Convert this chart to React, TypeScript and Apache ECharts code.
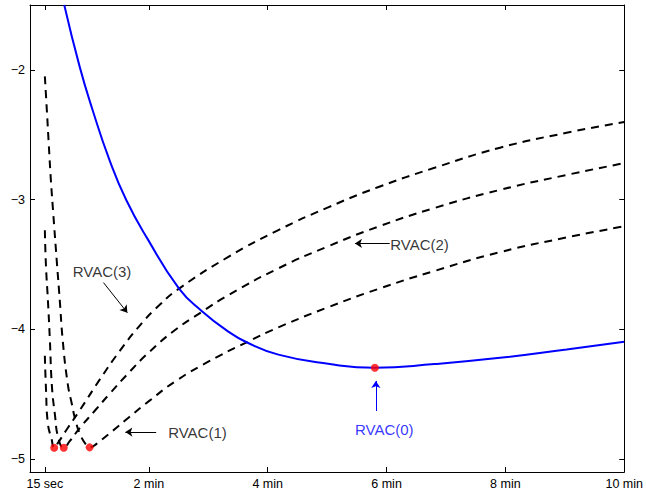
import React, { useEffect, useRef } from "react";
import * as echarts from "echarts";

const FONT = "'Liberation Sans', Arial, Helvetica, sans-serif";

// x in seconds, y values
const xTicks = [15, 120, 240, 360, 480, 600];
const xTickLabels = ["15 sec", "2 min", "4 min", "6 min", "8 min", "10 min"];
const yTicks = [-5, -4, -3, -2];

const rvac0 = [
  [34.6, -1.5], [50.2, -1.977], [63.2, -2.309], [80.3, -2.696], [97.3, -3.005],
  [118.4, -3.299], [150.5, -3.686], [173.6, -3.86], [200.7, -4.02],
  [218.7, -4.1], [250.8, -4.195], [301.0, -4.266], [348.2, -4.297], [408.4, -4.268],
  [474.6, -4.22], [541.8, -4.155], [600, -4.096],
];

const rvac1 = [
  [15, -2.05], [17, -2.31], [19, -2.58], [21, -2.84], [23.6, -3.12], [27, -3.47],
  [30.1, -3.78], [33.1, -4.09], [38.1, -4.42], [42.1, -4.57], [46.2, -4.71],
  [51.2, -4.82], [56.2, -4.885], [60.2, -4.91], [64, -4.9], [68.2, -4.877],
  [83.3, -4.784], [100.3, -4.676], [120.4, -4.552], [147.5, -4.397], [180, -4.25],
  [218.7, -4.1], [250.8, -3.985], [301, -3.83], [351.2, -3.69], [408.4, -3.55],
  [474.6, -3.405], [541.8, -3.292], [600, -3.206],
];

const rvac2 = [
  [15, -3.237], [16.1, -3.508], [18.1, -3.779], [20.1, -4.088], [22.1, -4.436],
  [25.1, -4.653], [28.6, -4.838], [34.1, -4.913], [40.1, -4.862], [50.2, -4.761],
  [65.2, -4.63], [80.3, -4.498], [100.3, -4.33], [120.4, -4.175], [145.5, -4.011],
  [173.6, -3.865], [200.7, -3.735], [250.8, -3.53], [301, -3.36], [351.2, -3.21],
  [408.4, -3.065], [474.6, -2.925], [541.8, -2.81], [600, -2.719],
];

const rvac3 = [
  [15, -4.204], [16.1, -4.452], [18.1, -4.73], [21.8, -4.846], [24.4, -4.913],
  [28.1, -4.877], [38.1, -4.761], [50.2, -4.625], [70.2, -4.39], [90.3, -4.17],
  [110.4, -3.975], [130.4, -3.815], [150.5, -3.686], [200.7, -3.44], [250.8, -3.235],
  [301, -3.06], [351.2, -2.905], [408.4, -2.755], [474.6, -2.6], [541.8, -2.485],
  [600, -2.402],
];

const minima = [[24.4, -4.913], [34.1, -4.913], [60.2, -4.91], [348.2, -4.297]];

const labelTexts = ["RVAC(0)", "RVAC(1)", "RVAC(2)", "RVAC(3)"];
const labelAnchors = [[357.7, -4.769], [169.1, -4.792], [393.3, -3.346], [72.7, -3.554]];
const labelColors = ["#0000ff", "#000000", "#000000", "#000000"];

// arrows: [tail, tip]
const arrowsBlack = [
  [[127.4, -4.792], [96.3, -4.792]],
  [[363.2, -3.338], [328.1, -3.338]],
  [[74.2, -3.64], [98.3, -3.872]],
];
const arrowsBlue = [[[349.2, -4.63], [349.2, -4.398]]];

export default function App() {
  const ref = useRef<HTMLDivElement>(null);
  useEffect(() => {
    if (!ref.current) return;
    const chart = echarts.init(ref.current, undefined, { renderer: "svg" });
    const axisLine = { show: true, onZero: false, lineStyle: { color: "#000", width: 1 } };
    const xTick = { show: true, inside: true, length: 5, customValues: xTicks, lineStyle: { color: "#000", width: 1 } };
    const yTick = { show: true, inside: true, length: 5, customValues: yTicks, lineStyle: { color: "#000", width: 1 } };
    const dashed = (data: number[][], name: string) => ({
      type: "line",
      name,
      data,
      showSymbol: false,
      smooth: 0.5,
      lineStyle: { color: "#000", width: 2, type: [8, 6] },
      z: 2,
    });
    chart.setOption({
      animation: false,
      backgroundColor: "#fff",
      grid: { left: 30, right: 18, top: 5, bottom: 21, containLabel: false },
      xAxis: [
        {
          type: "value", min: 0, max: 600, position: "bottom",
          axisLine, axisTick: xTick, splitLine: { show: false },
          axisLabel: {
            customValues: xTicks, margin: 5, color: "#000", fontSize: 12.5, fontFamily: FONT,
            formatter: (v: number) => {
              const i = xTicks.indexOf(v);
              return i >= 0 ? xTickLabels[i] : "";
            },
          },
        },
        {
          type: "value", min: 0, max: 600, position: "top",
          axisLine, axisTick: xTick, splitLine: { show: false }, axisLabel: { show: false },
        },
      ],
      yAxis: [
        {
          type: "value", min: -5.1, max: -1.5, position: "left",
          axisLine, axisTick: yTick, splitLine: { show: false },
          axisLabel: {
            customValues: yTicks, margin: 5, color: "#000", fontSize: 12.5, fontFamily: FONT,
            formatter: (v: number) => (v < 0 ? "\u2212" + Math.abs(v) : String(v)),
          },
        },
        {
          type: "value", min: -5.1, max: -1.5, position: "right",
          axisLine, axisTick: yTick, splitLine: { show: false }, axisLabel: { show: false },
        },
      ],
      series: [
        dashed(rvac1, "RVAC(1)"),
        dashed(rvac2, "RVAC(2)"),
        dashed(rvac3, "RVAC(3)"),
        {
          type: "line",
          name: "RVAC(0)",
          data: rvac0,
          showSymbol: false,
          smooth: 0.5,
          lineStyle: { color: "#0000ff", width: 2 },
          z: 3,
          markLine: {
            silent: true,
            symbol: ["none", "arrow"],
            symbolSize: 7,
            label: { show: false },
            lineStyle: { color: "#0000ff", width: 1, type: "solid" },
            data: arrowsBlue.map((a) => [{ coord: a[0] }, { coord: a[1] }]),
          },
        },
        {
          type: "scatter",
          name: "minima",
          data: minima,
          symbolSize: 8,
          itemStyle: { color: "#ff0000" },
          z: 5,
          markLine: {
            silent: true,
            symbol: ["none", "arrow"],
            symbolSize: 7,
            label: { show: false },
            lineStyle: { color: "#000", width: 1, type: "solid" },
            data: arrowsBlack.map((a) => [{ coord: a[0] }, { coord: a[1] }]),
          },
        },
        {
          type: "scatter",
          name: "labels",
          symbolSize: 0,
          silent: true,
          z: 6,
          data: labelTexts.map((t, i) => ({
            value: labelAnchors[i],
            label: {
              show: true,
              position: "inside",
              formatter: t,
              color: labelColors[i],
              textBorderWidth: 0,
              fontSize: 15,
              fontFamily: FONT,
            },
          })),
        },
      ],
    });
    return () => chart.dispose();
  }, []);
  return (
    <div
      ref={ref}
      style={{ position: "fixed", left: 0, top: 0, width: 646, height: 493, background: "#fff" }}
    />
  );
}
